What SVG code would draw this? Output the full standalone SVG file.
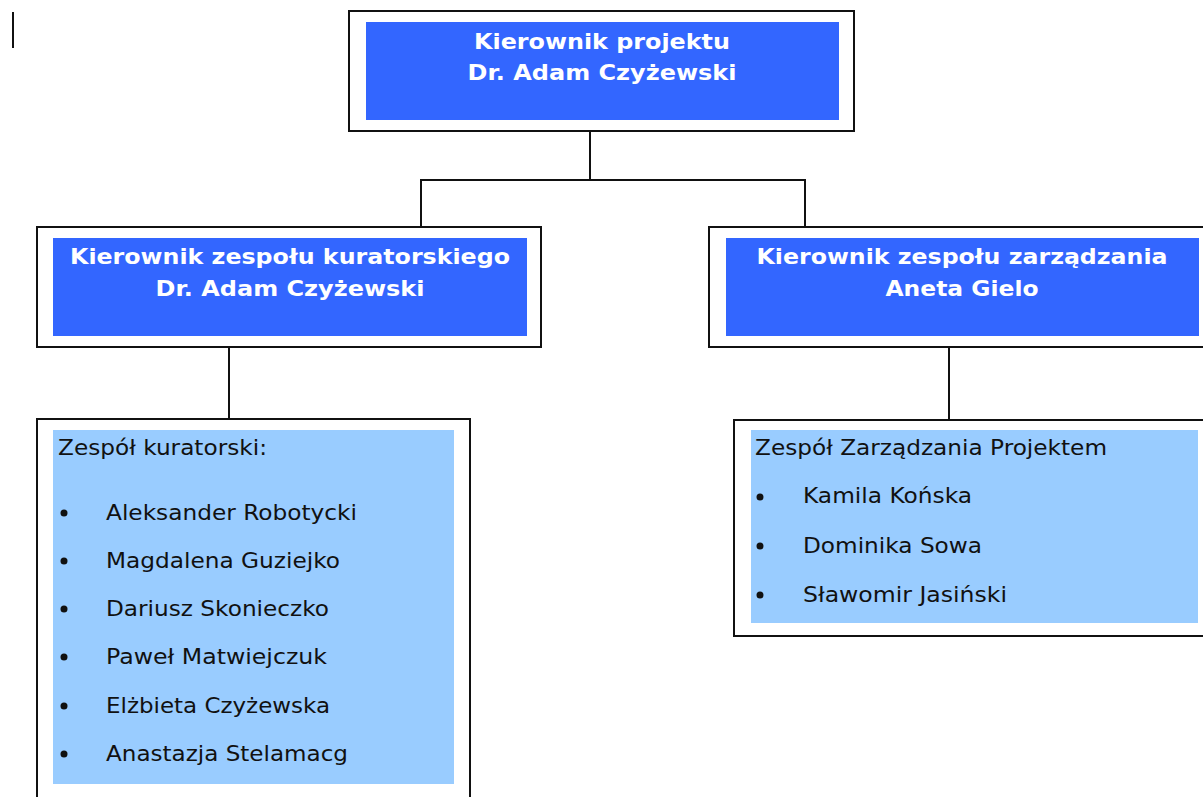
<svg xmlns="http://www.w3.org/2000/svg" width="1203" height="797" viewBox="0 0 1203 797">
<style>
.outer{fill:#fff;stroke:#111;stroke-width:2}
.head{fill:#3366ff}
.list{fill:#99ccff}
.ht{font-family:"DejaVu Sans",Verdana,sans-serif;font-weight:bold;font-size:21px;fill:#fff;text-anchor:middle}
.lt{font-family:"DejaVu Sans",Verdana,sans-serif;font-size:22px;fill:#111}
.conn{fill:none;stroke:#111;stroke-width:2}
.bul{fill:#111}
</style>
<rect width="1203" height="797" fill="#fff"/>
<rect x="12" y="12" width="2" height="36" fill="#111"/>
<g id="connectors">
<path class="conn" d="M590 131 V180 M421 227 V180 H805 V227"/>
<path class="conn" d="M229 347 V419"/>
<path class="conn" d="M949 347 V420"/>
</g>
<g id="node-top">
<rect class="outer" x="349" y="11" width="505" height="120"/>
<rect class="head" x="366" y="22" width="473" height="98"/>
<text class="ht" x="602" y="49" textLength="256" lengthAdjust="spacingAndGlyphs">Kierownik projektu</text>
<text class="ht" x="602" y="80" textLength="269" lengthAdjust="spacingAndGlyphs">Dr. Adam Czyżewski</text>
</g>
<g id="node-kurator-lead">
<rect class="outer" x="37" y="227" width="504" height="120"/>
<rect class="head" x="53" y="238" width="474" height="98"/>
<text class="ht" x="290" y="264" textLength="440" lengthAdjust="spacingAndGlyphs">Kierownik zespołu kuratorskiego</text>
<text class="ht" x="290" y="296" textLength="269" lengthAdjust="spacingAndGlyphs">Dr. Adam Czyżewski</text>
</g>
<g id="node-manage-lead">
<rect class="outer" x="709" y="227" width="510" height="120"/>
<rect class="head" x="726" y="238" width="473" height="98"/>
<text class="ht" x="962" y="264" textLength="411" lengthAdjust="spacingAndGlyphs">Kierownik zespołu zarządzania</text>
<text class="ht" x="962" y="296" textLength="153" lengthAdjust="spacingAndGlyphs">Aneta Gielo</text>
</g>
<g id="node-kurator-team">
<rect class="outer" x="37" y="419" width="433" height="400"/>
<rect class="list" x="53" y="430" width="401" height="354"/>
<text class="lt" x="58" y="455" textLength="209" lengthAdjust="spacingAndGlyphs">Zespół kuratorski:</text>
<circle class="bul" cx="64" cy="513" r="3.5"/>
<text class="lt" x="106" y="520" textLength="251" lengthAdjust="spacingAndGlyphs">Aleksander Robotycki</text>
<circle class="bul" cx="64" cy="561" r="3.5"/>
<text class="lt" x="106" y="568" textLength="234" lengthAdjust="spacingAndGlyphs">Magdalena Guziejko</text>
<circle class="bul" cx="64" cy="609" r="3.5"/>
<text class="lt" x="106" y="616" textLength="223" lengthAdjust="spacingAndGlyphs">Dariusz Skonieczko</text>
<circle class="bul" cx="64" cy="657" r="3.5"/>
<text class="lt" x="106" y="664" textLength="221" lengthAdjust="spacingAndGlyphs">Paweł Matwiejczuk</text>
<circle class="bul" cx="64" cy="706" r="3.5"/>
<text class="lt" x="106" y="713" textLength="224" lengthAdjust="spacingAndGlyphs">Elżbieta Czyżewska</text>
<circle class="bul" cx="64" cy="754" r="3.5"/>
<text class="lt" x="106" y="761" textLength="242" lengthAdjust="spacingAndGlyphs">Anastazja Stelamacg</text>
</g>
<g id="node-manage-team">
<rect class="outer" x="734" y="420" width="490" height="216"/>
<rect class="list" x="751" y="430" width="447" height="193"/>
<text class="lt" x="755" y="455" textLength="352" lengthAdjust="spacingAndGlyphs">Zespół Zarządzania Projektem</text>
<circle class="bul" cx="760" cy="497" r="3.5"/>
<text class="lt" x="803" y="503" textLength="169" lengthAdjust="spacingAndGlyphs">Kamila Końska</text>
<circle class="bul" cx="760" cy="546" r="3.5"/>
<text class="lt" x="803" y="553" textLength="179" lengthAdjust="spacingAndGlyphs">Dominika Sowa</text>
<circle class="bul" cx="760" cy="595" r="3.5"/>
<text class="lt" x="803" y="602" textLength="204" lengthAdjust="spacingAndGlyphs">Sławomir Jasiński</text>
</g>
</svg>
